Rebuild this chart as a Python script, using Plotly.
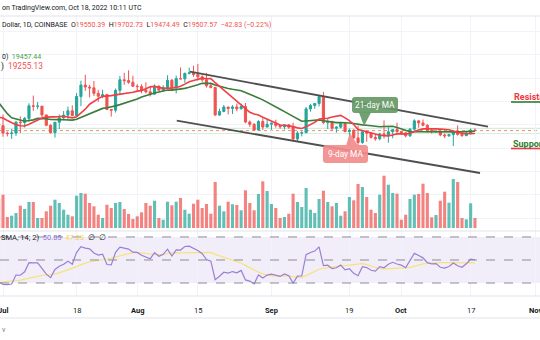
import pandas as pd
import plotly.graph_objects as go

W, H = 540, 340

# ---------------- data ----------------
# closes before the visible window (used only to warm up the indicators)
warmup_start = "2022-05-01"
warmup_close = [38470, 38520, 37730, 39690, 36550, 36010, 35470, 34060, 30090, 31010,
                28940, 29030, 29280, 30080, 31310, 29860, 30420, 28700, 30300, 29200,
                29430, 30280, 29100, 29650, 29540, 29190, 28630, 29020, 29450, 31720, 31790,
                29800, 30450, 29700, 29860, 29900, 31370, 31130, 30200, 30110, 29090,
                28420, 26570, 22490, 22130, 22580, 20400, 20450, 19010, 20560, 20720,
                20710, 19970, 21100, 21230, 21500, 21030, 20730, 20280, 20100]

candle_start = "2022-06-30"
open_ = [20100, 19930, 19300, 19250, 19300, 20230, 20190, 20550, 21620, 21590, 21600, 20850, 19960,
         19330, 20220, 20590, 20830, 21200, 20790, 22420, 23400, 23230, 23160, 22690, 22450, 22580,
         21310, 21250, 22950, 23850, 23780, 23640, 23300, 23270, 22980, 22820, 22620, 23310, 22960,
         23180, 23810, 23160, 23950, 23930, 24400, 24440, 24300, 24100, 23850, 23340, 23200, 20830,
         21140, 21520, 21400, 21530, 21370, 21560, 20240, 20040, 19550, 20280, 19810,
         20050, 20130, 19950, 19830, 20000, 19800, 18790, 19290, 19320, 21360, 21650, 21830, 22400,
         20180, 20230, 19700, 19800, 20110, 19420, 19540, 18880, 18490, 19400, 19290, 18920, 18800,
         19220, 19080, 19410, 19590,
         19420, 19310, 19060, 19630, 20340, 20160, 19960, 19530, 19420, 19440, 19130, 19060, 19160,
         19380, 19180, 19070, 19270, 19550.39]
high = [20170, 20880, 19430, 19650, 20340, 20720, 20670, 21840, 22500, 21950, 21600, 20860, 20050,
        20230, 20880, 21180, 21560, 21670, 22720, 23780, 24280, 23430, 23750, 22990, 23000, 22650,
        21360, 23100, 24180, 24450, 24660, 24200, 23480, 23470, 23640, 23230, 23460, 23360, 23390,
        24240, 23920, 24210, 24900, 24460, 24890, 25050, 25210, 24240, 24440, 23590, 23200, 21380,
        21700, 21530, 21680, 21830, 21810, 21870, 20370, 20160, 20390, 20560, 20480,
        20200, 20440, 19970, 20010, 20050, 20180, 19460, 19460, 21530, 21800, 21850, 22480, 22800,
        20540, 20350, 19890, 20170, 20110, 19690, 19630, 19950, 19490, 19500, 19310, 19180, 19310,
        20380, 19790, 19640, 20180,
        19480, 19400, 19720, 20470, 20370, 20450, 20060, 19620, 19560, 19530, 19260, 19230, 19510,
        19950, 19230, 19400, 19690, 19702.73]
low = [18630, 18980, 19010, 18790, 19050, 19300, 19770, 20250, 21200, 21330, 20660, 19880, 19250,
       18910, 19630, 20400, 20500, 20760, 20760, 21600, 22900, 22340, 22460, 21960, 22270, 21260,
       20700, 21050, 22590, 23420, 23500, 23240, 22860, 22690, 22690, 22420, 22590, 22930, 22840,
       23160, 22880, 22680, 23900, 23590, 24300, 24110, 23780, 23680, 23190, 23110, 20800, 20770,
       21080, 20890, 20930, 21160, 21320, 20140, 19820, 19530, 19550, 19560, 19800,
       19560, 19760, 19660, 19600, 19640, 18660, 18540, 19010, 19310, 21120, 21370, 21570, 20080,
       19640, 19490, 19330, 19700, 19370, 18270, 18780, 18130, 18370, 18550, 18830, 18640, 18680,
       18820, 18470, 18850, 19160,
       19160, 18930, 18960, 19500, 19750, 19870, 19340, 19260, 19320, 19020, 18860, 18960, 18190,
       19080, 18980, 19060, 19160, 19474.49]
close = [19930, 19300, 19250, 19300, 20230, 20190, 20550, 21620, 21590, 21600, 20850, 19960, 19330,
         20220, 20590, 20830, 21200, 20790, 22420, 23400, 23230, 23160, 22690, 22450, 22580, 21310,
         21250, 22950, 23850, 23780, 23640, 23300, 23270, 22980, 22820, 22620, 23310, 22960, 23180,
         23810, 23160, 23950, 23930, 24400, 24440, 24300, 24100, 23850, 23340, 23200, 20830, 21140,
         21520, 21400, 21530, 21370, 21560, 20240, 20040, 19550, 20280, 19810, 20050,
         20130, 19950, 19830, 20000, 19800, 18790, 19290, 19320, 21360, 21650, 21830, 22400, 20180,
         20230, 19700, 19800, 20110, 19420, 19540, 18880, 18490, 19400, 19290, 18920, 18800, 19220,
         19080, 19410, 19590, 19420,
         19310, 19060, 19630, 20340, 20160, 19960, 19530, 19420, 19440, 19130, 19060, 19160, 19380,
         19180, 19070, 19270, 19550, 19507.57]
volume = [29.0, 33.3, 11.0, 12.3, 15.0, 22.3, 19.0, 26.0, 26.0, 10.0, 10.0, 16.7, 22.3, 28.3, 25.0,
          18.3, 13.3, 11.7, 32.3, 35.0, 34.3, 25.0, 21.7, 13.3, 10.0, 23.3, 20.0, 25.0, 26.0, 19.0,
          14.0, 9.0, 11.7, 15.7, 25.0, 22.3, 27.3, 10.0, 8.3, 26.3, 22.7, 26.3, 30.0, 18.3, 14.3,
          24.3, 28.3, 20.0, 24.0, 14.3, 46.0, 22.3, 16.7, 26.3, 23.7, 23.0, 17.7, 37.7, 25.0, 17.7,
          34.0, 46.7, 37.0,
          24.0, 20.0, 10.0, 11.0, 14.3, 34.3, 26.0, 21.0, 40.0, 18.3, 15.0, 29.0, 37.3, 26.0, 21.7,
          25.0, 12.3, 16.7, 31.0, 27.7, 44.0, 41.0, 31.0, 18.3, 15.0, 33.3, 52.3, 43.3, 35.0, 34.3,
          8.3, 13.3, 29.0, 33.3, 34.0, 44.3, 35.0, 10.7, 13.0, 27.3, 36.3, 25.3, 49.0, 46.0, 10.0,
          8.7, 24.7, 10.0]

tick_dates = ["2022-07-01", "2022-07-18", "2022-08-01", "2022-08-15", "2022-09-01",
              "2022-09-19", "2022-10-01", "2022-10-17", "2022-11-01"]
tick_labels = ["Jul", "18", "Aug", "15", "Sep", "19", "Oct", "17", "Nov"]

# channel drawn on the chart (date, price)
upper_channel_x = ["2022-08-13 04:30", "2022-10-21 00:15"]
upper_channel_y = [24542, 19839]
lower_channel_x = ["2022-08-10 03:00", "2022-10-19 04:00"]
lower_channel_y = [20352, 15880]

rsi_levels = [70, 50, 30]
# ---------------------------------------

dates = pd.date_range(candle_start, periods=len(close), freq="D")
wdates = pd.date_range(warmup_start, periods=len(warmup_close), freq="D")
all_close = pd.Series(warmup_close + close, index=wdates.append(dates))

sma9 = all_close.rolling(9).mean()
sma21 = all_close.rolling(21).mean()
delta = all_close.diff()
gain = delta.clip(lower=0)
loss = -delta.clip(upper=0)
ag = gain.ewm(alpha=1 / 14, adjust=False).mean()
al = loss.ewm(alpha=1 / 14, adjust=False).mean()
rsi = 100 - 100 / (1 + ag / al)
rsi_ma = rsi.rolling(14).mean()

UP, DN = "#26a69a", "#ef5350"
vcol = ["rgba(38,166,154,0.72)" if c >= o else "rgba(239,83,80,0.72)" for o, c in zip(open_, close)]

X = lambda px: px / W
Y = lambda py: 1 - py / H

price_dom = [Y(231), Y(16)]
rsi_dom = [Y(296), Y(231)]

fig = go.Figure()
fig.add_trace(go.Bar(x=dates, y=volume, marker=dict(color=vcol, line=dict(width=0)),
                     width=0.72 * 86400000, xaxis="x", yaxis="y2", hoverinfo="skip"))
fig.add_trace(go.Scatter(x=all_close.index, y=sma21, mode="lines", line=dict(color="#3b7d3b", width=1.6),
                         xaxis="x", yaxis="y"))
fig.add_trace(go.Scatter(x=all_close.index, y=sma9, mode="lines", line=dict(color="#f03e44", width=1.6),
                         xaxis="x", yaxis="y"))
fig.add_trace(go.Candlestick(x=dates, open=open_, high=high, low=low, close=close,
                             increasing=dict(line=dict(color=UP, width=1), fillcolor=UP),
                             decreasing=dict(line=dict(color=DN, width=1), fillcolor=DN),
                             xaxis="x", yaxis="y"))
fig.add_trace(go.Scatter(x=upper_channel_x, y=upper_channel_y, mode="lines",
                         line=dict(color="#4f4f4f", width=1.8), xaxis="x", yaxis="y"))
fig.add_trace(go.Scatter(x=lower_channel_x, y=lower_channel_y, mode="lines",
                         line=dict(color="#4f4f4f", width=1.8), xaxis="x", yaxis="y"))
fig.add_trace(go.Scatter(x=all_close.index, y=rsi_ma, mode="lines", line=dict(color="#f6e27c", width=1.2),
                         xaxis="x2", yaxis="y3"))
fig.add_trace(go.Scatter(x=all_close.index, y=rsi, mode="lines", line=dict(color="#9a7fd6", width=1.2),
                         xaxis="x2", yaxis="y3"))

xr = ["2022-06-30 07:22", "2022-11-02 00:30"]
grid = "#f0f3fa"
fig.update_layout(
    width=W, height=H, margin=dict(l=0, r=0, t=0, b=0),
    paper_bgcolor="white", plot_bgcolor="white", showlegend=False,
    xaxis=dict(domain=[0, 1], range=xr, anchor="y", tickvals=tick_dates, showticklabels=False,
               showgrid=True, gridcolor=grid, gridwidth=1, zeroline=False, rangeslider=dict(visible=False),
               showline=False, ticks=""),
    xaxis2=dict(domain=[0, 1], range=xr, anchor="y3", matches="x", tickvals=tick_dates,
                showticklabels=False, showgrid=True, gridcolor=grid, zeroline=False, showline=False, ticks=""),
    yaxis=dict(domain=price_dom, range=[25200 - 167 * 85.5, 25200 + 48 * 85.5], dtick=2000,
               showgrid=True, gridcolor=grid, showticklabels=False, zeroline=False, ticks=""),
    yaxis2=dict(domain=price_dom, overlaying="y", range=[-3, 212], visible=False),
    yaxis3=dict(domain=rsi_dom, range=[18.7, 75.2], showgrid=False, showticklabels=False,
                zeroline=False, ticks=""),
)

shapes = []
border = "#e0e3eb"
for py in (16, 231, 296, 318):
    shapes.append(dict(type="line", xref="paper", yref="paper", x0=0, x1=1, y0=Y(py), y1=Y(py),
                       line=dict(color=border, width=1)))
shapes.append(dict(type="rect", xref="paper", yref="y3", x0=0, x1=1, y0=rsi_levels[2], y1=rsi_levels[0],
                   fillcolor="rgba(126,87,194,0.1)", line=dict(width=0), layer="below"))
for lv in rsi_levels:
    shapes.append(dict(type="line", xref="paper", yref="y3", x0=0, x1=1, y0=lv, y1=lv,
                       line=dict(color="#8a8d96", width=1, dash="dash")))
# horizontal price lines
for pv, col, dash in [(19700, "#cfe8cf", "solid"), (19255, "#d8eed8", "solid"), (close[-1], "#f28a88", "dot")]:
    shapes.append(dict(type="line", xref="paper", yref="y", x0=0, x1=1, y0=pv, y1=pv,
                       line=dict(color=col, width=1, dash=dash), layer="below"))


def rrect(x0, y0, x1, y1, r):
    a, b, c, d = X(x0), Y(y0), X(x1), Y(y1)
    rx, ry = r / W, r / H
    return (f"M {a+rx} {b} L {c-rx} {b} Q {c} {b} {c} {b-ry} L {c} {d+ry} Q {c} {d} {c-rx} {d} "
            f"L {a+rx} {d} Q {a} {d} {a} {d+ry} L {a} {b-ry} Q {a} {b} {a+rx} {b} Z")


def tri(pts):
    s = " L ".join(f"{X(px)} {Y(py)}" for px, py in pts)
    return f"M {s} Z"


green_box = "rgba(98,150,98,0.9)"
red_box = "rgba(242,140,140,0.92)"
shapes.append(dict(type="path", xref="paper", yref="paper", path=rrect(352, 97, 398, 113, 3),
                   fillcolor=green_box, line=dict(width=0)))
shapes.append(dict(type="path", xref="paper", yref="paper", path=tri([(359, 112.5), (371, 112.5), (364, 126)]),
                   fillcolor=green_box, line=dict(width=0)))
shapes.append(dict(type="path", xref="paper", yref="paper", path=rrect(323, 145, 368, 163, 3),
                   fillcolor=red_box, line=dict(width=0)))
shapes.append(dict(type="path", xref="paper", yref="paper", path=tri([(346, 145.5), (358, 145.5), (350, 133)]),
                   fillcolor=red_box, line=dict(width=0)))
# underlines of Resistance / Support labels
shapes.append(dict(type="line", xref="paper", yref="paper", x0=X(511), x1=1, y0=Y(102), y1=Y(102),
                   line=dict(color="#2e7d32", width=1.6)))
shapes.append(dict(type="line", xref="paper", yref="paper", x0=X(511), x1=1, y0=Y(148.5), y1=Y(148.5),
                   line=dict(color="#f23645", width=1.6)))
fig.update_layout(shapes=shapes)

F = "Roboto, Arial, sans-serif"
TXT = "#131722"
ann = []


def text(px, py, s, size=7, color=TXT, xanchor="left", bold=False, family=F):
    ann.append(dict(xref="paper", yref="paper", x=X(px), y=Y(py), text=(f"<b>{s}</b>" if bold else s),
                    showarrow=False, xanchor=xanchor, yanchor="middle",
                    font=dict(size=size, color=color, family=family)))


R = "#ef5350"
sp = lambda v, c=R: f"<span style='color:{c}'>{v}</span>"
text(0, 8, "on TradingView.com, Oct 18, 2022 10:11 UTC", size=7)
text(0, 25, "Dollar, 1D, COINBASE  O" + sp("19550.39") + "  H" + sp("19702.73") + "  L" + sp("19474.49")
     + "  C" + sp("19507.57") + "  " + sp("\u221242.83 (\u22120.22%)"), size=7)
text(0, 57, "0)  " + sp("19457.44", "#43a047"), size=7)
text(-1, 67, ")  " + sp("19255.13", "#f05050"), size=8.3)
text(-1, 237, "SMA, 14; 2)  " + sp("50.05", "#8a6fd0") + "  " + sp("47.23", "#f2d44a") + "  \u2205  \u2205", size=7.5)
text(375, 105, "21-day MA", size=8.3, color="white", xanchor="center")
text(345.5, 154, "9-day MA", size=8.3, color="white", xanchor="center")
text(512, 97, "Resistance", size=9, color="#f23645", bold=True)
text(511, 143.5, "Support", size=9, color="#2e7d32", bold=True)
text(0, 330, "v", size=7, color="#787b86")

for d, lab in zip(tick_dates, tick_labels):
    bold = not lab.isdigit()
    ann.append(dict(xref="x", yref="paper", x=d, y=Y(310), text=(f"<b>{lab}</b>" if bold else lab),
                    showarrow=False, xanchor="center", yanchor="middle",
                    font=dict(size=7.5, color=TXT, family=F)))
fig.update_layout(annotations=ann)

fig.write_html("out.html")
